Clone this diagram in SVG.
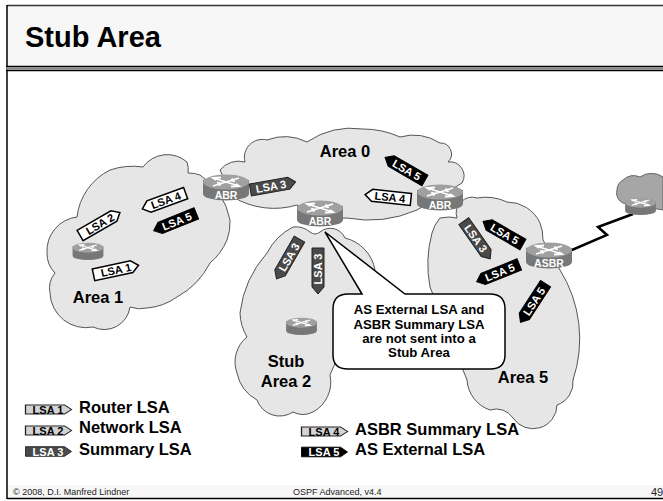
<svg xmlns="http://www.w3.org/2000/svg" width="663" height="501" viewBox="0 0 663 501">
<style>
text{font-family:"Liberation Sans",Arial,sans-serif}
.b{font-weight:bold;fill:#000}
.area{font-size:16.5px;font-weight:bold;fill:#000;text-anchor:middle}
.leg{font-size:16.5px;font-weight:bold;fill:#000}
.cloud{fill:#e6e6e6;stroke:#555;stroke-width:1}
.foot{font-size:9px;fill:#222}
.rt{font-size:10.5px;font-weight:bold;fill:#fff;text-anchor:middle}
.lt{font-size:11px;font-weight:bold;text-anchor:middle}
.w{fill:#fff;stroke:#000;stroke-width:1.5}
.g{fill:#4a4a4a;stroke:#222;stroke-width:1}
.k{fill:#000;stroke:#000;stroke-width:1}
.lw{fill:#000}.lk{fill:#fff}
.call{fill:#fff;stroke:#000;stroke-width:1.5}
.ct{font-size:13.2px;font-weight:bold;fill:#000;text-anchor:middle}
</style>
<defs>
<path id="ar" d="M-23,-6H16L23,0L16,6H-23Z"/>
<path id="al" d="M23,-6H-16L-23,0L-16,6H23Z"/>
<g id="router">
<path d="M-23,-7V7A23,6.5 0 0 0 23,7V-7Z" fill="#777"/>
<ellipse cx="0" cy="-5" rx="23" ry="7.500" fill="#a0a0a0"/>
<path d="M-13,-9L-5,-6.500M-5,-9.500L-13,-9L-10,-7M13,-1L5,-3.500M5,-0.500L13,-1L10,-3M-13,-1L-5,-3.500M-9,-4.500L-5,-3.500L-7,-1.500M13,-9L5,-6.500M9,-5.500L5,-6.500L7,-8.500M-5,-6.500L5,-3.500M5,-6.500L-5,-3.500" fill="none" stroke="#fff" stroke-width="1.800"/>
</g>
</defs>
<rect width="663" height="501" fill="#fff"/>
<g id="frame">
<rect x="7" y="5" width="656" height="62" fill="#f7f7f7"/>
<rect x="7" y="485" width="656" height="13" fill="#f7f7f7"/>
<path d="M7,5.500H663" stroke="#333" stroke-width="1.500"/>
<path d="M7,5V499" stroke="#000" stroke-width="1.500"/>
<path d="M6,66.500H663M6,70.500H663" stroke="#000" stroke-width="1.500"/>
<path d="M6,68.500H663" stroke="#888" stroke-width="2.500"/>
<path d="M7,498.500H663" stroke="#000" stroke-width="1.500"/>
<text x="25" y="47" class="b" font-size="29">Stub Area</text>
<text x="13" y="495" class="foot">© 2008, D.I. Manfred Lindner</text>
<text x="293" y="495" class="foot">OSPF Advanced, v4.4</text>
<text x="651" y="496" font-size="11" fill="#222">49</text>
</g>
<g id="cloud-ext"><path fill="#a6a6a6" stroke="#666" d="M663,177A20,20 0 0 0 640,177A16,16 0 0 0 623,180A12,12 0 0 0 617,190A11,11 0 0 0 628,204L663,210Z"/></g>
<g id="area-1"><path class="cloud" d="M188,173Q195,173 200,175A70,70 0 0 1 230,220A50,50 0 0 1 227,240A60,60 0 0 1 210,263A80,80 0 0 1 177,297A60,60 0 0 1 147,308A30,30 0 0 1 130,307A26,26 0 0 1 93,327A36,36 0 0 1 50,293A24,24 0 0 1 55,273A28,28 0 0 1 47,253A34,34 0 0 1 77,217A60,60 0 0 1 110,170A70,70 0 0 1 143,167A30,30 0 0 1 187,162Q189,168 188,173Z"/><text x="98" y="303" class="area">Area 1</text></g>
<g id="area-0"><path class="cloud" d="M220,170A24,24 0 0 1 245,162A18,18 0 0 1 267,140A50,50 0 0 1 307,142A80,80 0 0 1 363,129A90,90 0 0 1 400,137A50,50 0 0 1 440,143A11,11 0 0 1 448,162A14,14 0 0 1 462,183L417,210A120,120 0 0 1 347,218A70,70 0 0 1 297,205A80,80 0 0 1 233,197Z"/><text x="345" y="157" class="area">Area 0</text></g>
<g id="stub-area-2"><path class="cloud" d="M310,232A22,22 0 0 0 293,227A60,60 0 0 0 267,253A110,110 0 0 0 240,313A50,50 0 0 0 247,337A32,32 0 0 0 237,373A40,40 0 0 0 257,400A24,24 0 0 0 293,412A22,22 0 0 0 313,412A34,34 0 0 0 330,375L375,270A40,40 0 0 0 345,238A16,16 0 0 0 320,232Q315,236 310,232Z"/><text x="286" y="367" class="area">Stub</text><text x="286" y="387" class="area">Area 2</text></g>
<g id="area-5"><path class="cloud" d="M457,218A16,16 0 0 1 477,198A50,50 0 0 1 507,202A36,36 0 0 1 540,223Q543,230 543,240L560,270A130,130 0 0 1 573,380A24,24 0 0 1 557,405A24,24 0 0 1 513,418A20,20 0 0 0 490,410A34,34 0 0 1 467,380L430,287A120,120 0 0 1 432,233Q434,225 440,218Q450,216 457,218Z"/><text x="523" y="383" class="area">Area 5</text></g>
<g id="connectors"><path d="M565,253L607,235L598,227L633,214" fill="none" stroke="#000" stroke-width="2.500"/></g>
<g id="router-area1"><use href="#router" transform="translate(88,251) scale(.67)"/></g>
<g id="router-stub"><use href="#router" transform="translate(301.500,326) scale(.67)"/></g>
<g id="router-ext"><use href="#router" transform="translate(640.500,206) scale(.67)"/></g>
<g id="abr-1"><use href="#router" transform="translate(226,187)"/><text x="226" y="199" class="rt">ABR</text></g>
<g id="abr-2"><use href="#router" transform="translate(320,213)"/><text x="320" y="225" class="rt">ABR</text></g>
<g id="abr-3"><use href="#router" transform="translate(440,197)"/><text x="440" y="209" class="rt">ABR</text></g>
<g id="asbr"><use href="#router" transform="translate(549,255)"/><text x="549" y="267" class="rt">ASBR</text></g>
<g id="callout">
<path class="call" d="M362,294L325,232L405,294H490Q505,294 505,309V355Q505,369 490,369H348Q333,369 333,355V309Q333,294 348,294Z"/>
<text x="419" y="314" class="ct">AS External LSA and</text>
<text x="419" y="329" class="ct">ASBR Summary LSA</text>
<text x="419" y="343" class="ct">are not sent into a</text>
<text x="419" y="357" class="ct">Stub Area</text>
</g>
<g id="lsa-messages">
<g transform="translate(116,270) rotate(-12)"><use href="#ar" class="w"/><text y="4" class="lt lw">LSA 1</text></g>
<g transform="translate(100,224) rotate(-30)"><use href="#ar" class="w"/><text y="4" class="lt lw">LSA 2</text></g>
<g transform="translate(164,201) rotate(-20)"><use href="#al" class="w"/><text y="4" x="2" class="lt lw">LSA 4</text></g>
<g transform="translate(175,222) rotate(-22)"><use href="#al" class="k"/><text y="4" x="2" class="lt lk">LSA 5</text></g>
<g transform="translate(273,186) rotate(-10)"><use href="#ar" class="g"/><text y="4" x="-2" class="lt lk">LSA 3</text></g>
<g transform="translate(288,259) rotate(-60)"><use href="#al" class="g"/><text y="4" x="2" class="lt lk">LSA 3</text></g>
<g transform="translate(318,271) rotate(-90)"><use href="#al" class="g"/><text y="4" x="2" class="lt lk">LSA 3</text></g>
<g transform="translate(405,169) rotate(30)"><use href="#al" class="k"/><text y="4" x="2" class="lt lk">LSA 5</text></g>
<g transform="translate(388,197) rotate(6)"><use href="#al" class="w"/><text y="4" x="2" class="lt lw">LSA 4</text></g>
<g transform="translate(477,240) rotate(55)"><use href="#ar" class="g"/><text y="4" x="-2" class="lt lk">LSA 3</text></g>
<g transform="translate(503,233) rotate(30)"><use href="#al" class="k"/><text y="4" x="2" class="lt lk">LSA 5</text></g>
<g transform="translate(498,273) rotate(-22)"><use href="#al" class="k"/><text y="4" x="2" class="lt lk">LSA 5</text></g>
<g transform="translate(533,303) rotate(-57)"><use href="#al" class="k"/><text y="4" x="2" class="lt lk">LSA 5</text></g>
</g>
<g id="legend">
<g transform="translate(48.500,409.500) scale(1,.75)"><use href="#ar" fill="#d4d4d4" stroke="#222" stroke-width="1.300"/></g><text x="48" y="413.500" class="lt lw">LSA 1</text>
<g transform="translate(48.500,430.500) scale(1,.75)"><use href="#ar" fill="#d4d4d4" stroke="#222" stroke-width="1.300"/></g><text x="48" y="434.500" class="lt lw">LSA 2</text>
<g transform="translate(48.500,451.500) scale(1,.8)"><use href="#ar" class="g"/></g><text x="48" y="455.500" class="lt lk">LSA 3</text>
<g transform="translate(324.500,431.500) scale(1,.75)"><use href="#ar" fill="#d4d4d4" stroke="#222" stroke-width="1.300"/></g><text x="324" y="435.500" class="lt lw">LSA 4</text>
<g transform="translate(324.500,452) scale(1,.8)"><use href="#ar" class="k"/></g><text x="324" y="456" class="lt lk">LSA 5</text>
<text x="79" y="413" class="leg">Router LSA</text>
<text x="79" y="433" class="leg">Network LSA</text>
<text x="79" y="455" class="leg">Summary LSA</text>
<text x="355" y="435" class="leg">ASBR Summary LSA</text>
<text x="355" y="455" class="leg">AS External LSA</text>
</g>
</svg>
